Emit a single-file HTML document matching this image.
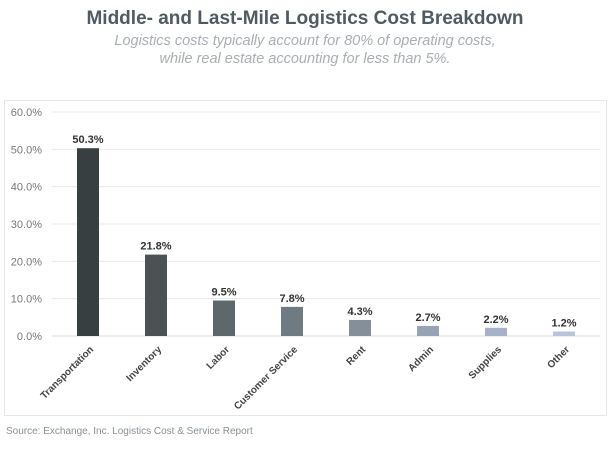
<!DOCTYPE html>
<html><head><meta charset="utf-8"><style>
body{margin:0;background:#fff;width:610px;height:462px;overflow:hidden;font-family:"Liberation Sans",sans-serif}
.t{position:absolute;left:0;width:610px;text-align:center}
</style></head><body>
<div class="t" style="top:8px;font-size:19px;font-weight:bold;color:#4f5b63">Middle- and Last-Mile Logistics Cost Breakdown</div>
<div class="t" style="top:32px;font-size:14.5px;font-style:italic;color:#a9aeb3;line-height:18px">Logistics costs typically account for 80% of operating costs,<br>while real estate accounting for less than 5%.</div>
<svg id="c" width="610" height="462" style="position:absolute;left:0;top:0">
<rect x="4.5" y="100.5" width="602" height="315" fill="none" stroke="#e6e6e6"/>
<g id="g"></g>
</svg>
<div style="position:absolute;left:6px;top:426px;font-size:10px;color:#8a8f94">Source: Exchange, Inc. Logistics Cost &amp; Service Report</div>
<script>
const categories=["Transportation","Inventory","Labor","Customer Service","Rent","Admin","Supplies","Other"];
const values=[50.3,21.8,9.5,7.8,4.3,2.7,2.2,1.2];
const ticks=[0,10,20,30,40,50,60];
const colors=["#383f41","#4b5254","#5d676c","#6e7b82","#848f9a","#97a3b4","#a5b2c8","#b7c4dc"];
const ns="http://www.w3.org/2000/svg",g=document.getElementById('g');
const y0=336,y1=112,x0=54,band=68;
const Y=v=>y0-(v/60)*(y0-y1);
const X=i=>x0+band*i+band/2;
function mk(t,a){const e=document.createElementNS(ns,t);for(const k in a)e.setAttribute(k,a[k]);g.appendChild(e);return e;}
ticks.forEach(t=>{
 const l=mk('line',{x1:52,x2:600,y1:Y(t),y2:Y(t),stroke:t===0?'#d8d8d8':'#e8e8e8'});
 
 
 const tx=mk('text',{x:42,y:Y(t)+4,'text-anchor':'end','font-size':11,fill:'#777'});
 tx.textContent=t.toFixed(1)+'%';
 
 
});
categories.forEach((c,i)=>{
 const v=values[i],cx=X(i);
 const r=mk('rect',{x:cx-11,y:Y(v),width:22,height:y0-Y(v),fill:colors[i]});
 
 
 const vl=mk('text',{x:cx,y:Y(v)-5,'text-anchor':'middle','font-size':11,'font-weight':'bold',fill:'#333'});
 vl.textContent=v.toFixed(1)+'%';
 
 
 const cl=mk('text',{x:cx+6,y:y0+14,'text-anchor':'end','font-size':10,'font-weight':'bold',fill:'#444',transform:`rotate(-45 ${cx+6} ${y0+14})`});
 cl.textContent=c;
 
 
});
</script>
</body></html>
